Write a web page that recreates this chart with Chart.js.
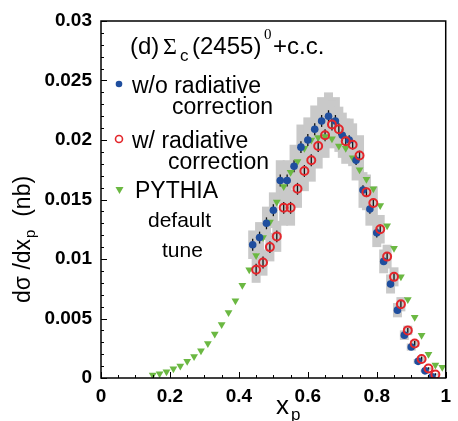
<!DOCTYPE html>
<html><head><meta charset="utf-8">
<script src="https://cdn.jsdelivr.net/npm/chart.js@4.4.1/dist/chart.umd.min.js"></script>
<style>html,body{margin:0;padding:0;background:#fff}canvas{display:block}</style>
</head><body>
<canvas id="c" width="458" height="421"></canvas>
<script>
// ---- data ----
const xBlue = [0.44,0.46,0.48,0.50,0.52,0.54,0.56,0.58,0.60,0.62,0.64,0.66,0.68,0.70,0.72,0.74,0.76,0.78,0.80,0.82,0.84,0.86,0.88,0.90,0.92,0.94,0.96];
const yBlue = [0.0112,0.0118,0.0130,0.0141,0.0166,0.0166,0.0178,0.0194,0.0200,0.0209,0.0216,0.0220,0.0216,0.0204,0.0200,0.0183,0.0158,0.0142,0.0122,0.0098,0.0079,0.0057,0.0036,0.0026,0.0014,0.0006,0.0001];
const statBlue = [0.0005,0.0005,0.0005,0.0005,0.0005,0.0005,0.0005,0.0005,0.0005,0.0005,0.0005,0.0005,0.0005,0.0005,0.0004,0.0004,0.0004,0.0004,0.0004,0.0003,0.0003,0.0003,0.0002,0.0002,0.0002,0.0001,0.0001];
const sysBlue = [0.0012,0.0013,0.0014,0.0015,0.0017,0.0017,0.0018,0.0019,0.0019,0.0020,0.0020,0.0020,0.0020,0.0019,0.0018,0.0017,0.0015,0.0014,0.0012,0.0010,0.0008,0.0006,0.0004,0.0003,0.0002,0.0001,0.0001];

const xRed = [0.45,0.47,0.49,0.51,0.53,0.55,0.57,0.59,0.61,0.63,0.65,0.67,0.69,0.71,0.73,0.75,0.77,0.79,0.81,0.83,0.85,0.87,0.89,0.91,0.93,0.95,0.97];
const yRed = [0.0091,0.0097,0.0110,0.0119,0.0143,0.0143,0.0159,0.0174,0.0183,0.0195,0.0204,0.0213,0.0209,0.0199,0.0196,0.0187,0.0156,0.0147,0.0125,0.0102,0.0085,0.0062,0.0040,0.0029,0.0016,0.0008,0.0003];
const statRed = [0.0005,0.0005,0.0005,0.0005,0.0005,0.0005,0.0005,0.0005,0.0005,0.0005,0.0005,0.0005,0.0005,0.0005,0.0004,0.0004,0.0004,0.0004,0.0004,0.0003,0.0003,0.0003,0.0002,0.0002,0.0002,0.0001,0.0001];
const sysRed = [0.0011,0.0011,0.0012,0.0013,0.0015,0.0015,0.0016,0.0017,0.0018,0.0019,0.0019,0.0020,0.0019,0.0019,0.0018,0.0017,0.0015,0.0014,0.0012,0.0010,0.0008,0.0006,0.0004,0.0003,0.0002,0.0001,0.0001];

const xPythia = [0.15,0.17,0.19,0.21,0.23,0.25,0.27,0.29,0.31,0.33,0.35,0.37,0.39,0.41,0.43,0.45,0.47,0.49,0.51,0.53,0.55,0.57,0.59,0.61,0.63,0.65,0.67,0.69,0.71,0.73,0.75,0.77,0.79,0.81,0.83,0.85,0.87,0.89,0.91,0.93,0.95,0.97,0.99];
const yPythia = [0.00025,0.00036,0.00053,0.00078,0.00101,0.0014,0.0018,0.0023,0.0029,0.0037,0.0045,0.0055,0.0065,0.0078,0.0091,0.0103,0.0118,0.0131,0.0148,0.0161,0.0173,0.0182,0.0193,0.0200,0.0202,0.0203,0.0201,0.0195,0.0193,0.0185,0.0175,0.0167,0.0159,0.0145,0.0128,0.0109,0.0085,0.0066,0.0051,0.0036,0.0020,0.0011,0.0009];

const xTicks = [0,0.2,0.4,0.6,0.8,1];
const yTicks = [0,0.005,0.01,0.015,0.02,0.025,0.03];
const boxHalfWidth = 0.013;

const BLUE = '#1f4e9e', RED = '#e3262b', GREEN = '#6bb842', GREY = '#c9c9c9';
const SANS = '"Liberation Sans", Arial, Helvetica, sans-serif';
const SERIF = '"Liberation Serif", "Times New Roman", serif';

const pts = (xs, ys) => xs.map((x, i) => ({x: x, y: ys[i]}));
const fmt = v => { const n = Number(v.toFixed(4)); return n === 0 ? '0' : String(n); };

const errPlugin = {
  id: 'errs',
  beforeDatasetsDraw(chart) {
    const ctx = chart.ctx, xs = chart.scales.x, ys = chart.scales.y;
    ctx.save();
    ctx.fillStyle = GREY;
    const boxes = (xa, ya, sa) => xa.forEach((x, i) => {
      const l = xs.getPixelForValue(x - boxHalfWidth), r = xs.getPixelForValue(x + boxHalfWidth);
      const t = ys.getPixelForValue(ya[i] + sa[i]), b = ys.getPixelForValue(Math.max(0, ya[i] - sa[i]));
      ctx.fillRect(l, t, r - l, b - t);
    });
    boxes(xBlue, yBlue, sysBlue);
    boxes(xRed, yRed, sysRed);
    ctx.strokeStyle = '#111';
    ctx.lineWidth = 1.3;
    const bars = (xa, ya, ea) => xa.forEach((x, i) => {
      const px = xs.getPixelForValue(x);
      ctx.beginPath();
      ctx.moveTo(px, ys.getPixelForValue(ya[i] + ea[i]));
      ctx.lineTo(px, ys.getPixelForValue(Math.max(0, ya[i] - ea[i])));
      ctx.stroke();
    });
    bars(xBlue, yBlue, statBlue);
    bars(xRed, yRed, statRed);
    ctx.restore();
  },
  afterDraw(chart) {
    const ctx = chart.ctx, a = chart.chartArea, xs = chart.scales.x, ys = chart.scales.y;
    ctx.save();
    // frame
    ctx.strokeStyle = '#000';
    ctx.lineWidth = 1.5;
    ctx.strokeRect(a.left, a.top, a.right - a.left, a.bottom - a.top);
    // inward ticks
    ctx.lineWidth = 1;
    ctx.beginPath();
    for (let k = 0; k <= 30; k++) {
      const v = k * 0.001, py = Math.round(ys.getPixelForValue(v)) + 0.5;
      const len = (k % 5 === 0) ? 6 : 3;
      ctx.moveTo(a.left, py); ctx.lineTo(a.left + len, py);
    }
    for (let k = 0; k <= 20; k++) {
      const v = k * 0.05, px = Math.round(xs.getPixelForValue(v)) + 0.5;
      const len = (k % 4 === 0) ? 6 : 3;
      ctx.moveTo(px, a.bottom); ctx.lineTo(px, a.bottom - len);
    }
    ctx.stroke();

    // title
    ctx.fillStyle = '#000';
    ctx.textBaseline = 'alphabetic';
    ctx.textAlign = 'left';
    ctx.font = '24px ' + SANS;
    ctx.fillText('(d)', 130, 54);
    ctx.font = '24px ' + SERIF;
    ctx.fillText('\u03A3', 163, 54);
    ctx.font = '17px ' + SANS;
    ctx.fillText('c', 180, 61);
    ctx.font = '24px ' + SANS;
    ctx.fillText('(2455)', 192, 54);
    ctx.font = '15px ' + SERIF;
    ctx.fillText('0', 264, 39);
    ctx.font = '24px ' + SANS;
    ctx.fillText('+c.c.', 273, 54);

    // legend
    ctx.fillStyle = BLUE;
    ctx.beginPath(); ctx.arc(119, 84, 3.3, 0, Math.PI * 2); ctx.fill();
    ctx.strokeStyle = RED; ctx.lineWidth = 1.6;
    ctx.beginPath(); ctx.arc(119, 139, 3.5, 0, Math.PI * 2); ctx.stroke();
    ctx.fillStyle = GREEN;
    ctx.beginPath(); ctx.moveTo(115.5, 187); ctx.lineTo(123.5, 187); ctx.lineTo(119.5, 194); ctx.closePath(); ctx.fill();

    ctx.fillStyle = '#000';
    ctx.font = '23px ' + SANS;
    ctx.fillText('w/o radiative', 132, 93);
    ctx.fillText('correction', 172, 114);
    ctx.fillText('w/ radiative', 132, 148);
    ctx.fillText('correction', 168, 169);
    ctx.fillText('PYTHIA', 135, 198);
    ctx.font = '21px ' + SANS;
    ctx.fillText('default', 148, 227);
    ctx.fillText('tune', 162, 257);

    // axis titles
    ctx.save();
    ctx.translate(30, 303);
    ctx.rotate(-Math.PI / 2);
    ctx.font = '23px ' + SANS;
    let x0 = 0;
    ctx.fillText('d\u03C3 /dx', x0, 0); x0 += ctx.measureText('d\u03C3 /dx').width;
    ctx.font = '15px ' + SANS;
    ctx.fillText('p', x0 + 1, 5); x0 += ctx.measureText('p').width + 1;
    ctx.font = '23px ' + SANS;
    ctx.fillText('  (nb)', x0, 0);
    ctx.restore();

    ctx.font = '26px ' + SANS;
    ctx.fillText('x', 276, 414);
    ctx.font = '17px ' + SANS;
    ctx.fillText('p', 291, 420);
    ctx.restore();
  }
};

new Chart(document.getElementById('c'), {
  type: 'scatter',
  data: {
    datasets: [
      { label: 'w/ radiative correction', data: pts(xRed, yRed), pointStyle: 'circle', pointRadius: 4, pointBorderWidth: 2, borderColor: RED, backgroundColor: 'rgba(0,0,0,0)', pointBackgroundColor: 'rgba(0,0,0,0)' },
      { label: 'w/o radiative correction', data: pts(xBlue, yBlue), pointStyle: 'circle', pointRadius: 3.8, pointBorderWidth: 0, borderColor: BLUE, backgroundColor: BLUE },
      { label: 'PYTHIA default tune', data: pts(xPythia, yPythia), pointStyle: 'triangle', rotation: 180, pointRadius: 4.5, pointBorderWidth: 0, borderColor: GREEN, backgroundColor: GREEN }
    ]
  },
  options: {
    responsive: false,
    animation: false,
    events: [],
    layout: { padding: { top: 21, right: 4, left: 0, bottom: 0 } },
    plugins: { legend: { display: false }, tooltip: { enabled: false } },
    scales: {
      x: {
        type: 'linear', min: 0, max: 1,
        afterFit(s) { s.height = 43; },
        afterBuildTicks(s) { s.ticks = xTicks.map(v => ({ value: v })); },
        grid: { display: false, drawTicks: false },
        border: { display: false },
        ticks: { padding: 7, maxRotation: 0, autoSkip: false, color: '#000', font: { family: SANS, size: 19, weight: 'bold' }, callback: v => fmt(v) }
      },
      y: {
        type: 'linear', min: 0, max: 0.03,
        afterFit(s) { s.width = 101; },
        afterBuildTicks(s) { s.ticks = yTicks.map(v => ({ value: v })); },
        grid: { display: false, drawTicks: false },
        border: { display: false },
        ticks: { padding: 9, autoSkip: false, color: '#000', font: { family: SANS, size: 19, weight: 'bold' }, callback: v => fmt(v) }
      }
    }
  },
  plugins: [errPlugin]
});
</script>
</body></html>
